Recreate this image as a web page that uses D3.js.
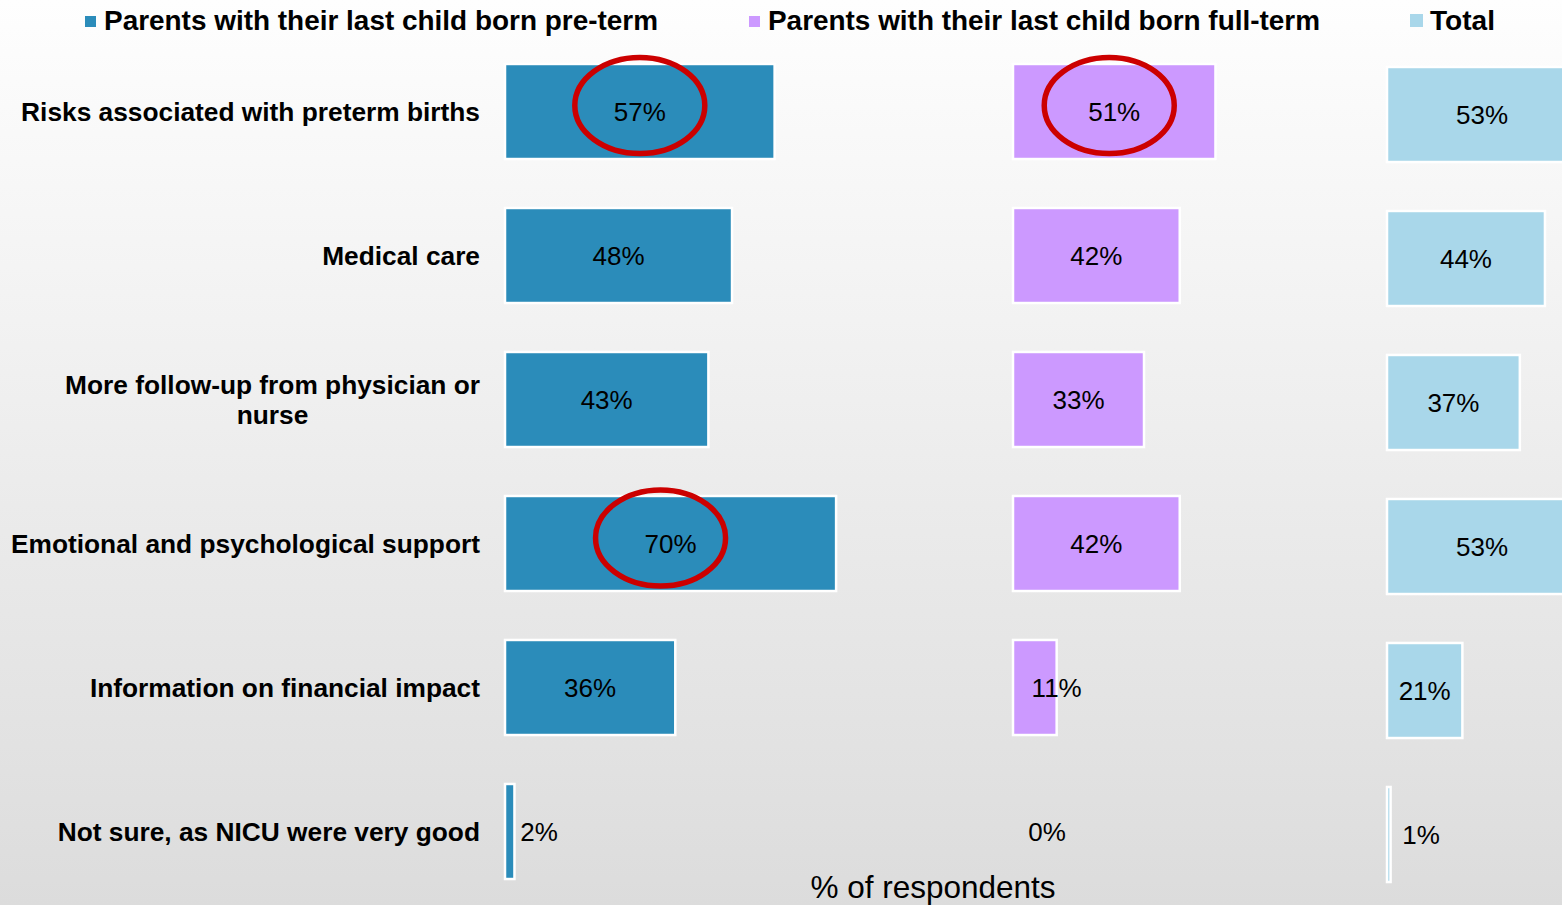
<!DOCTYPE html>
<html>
<head>
<meta charset="utf-8">
<script src="https://cdn.jsdelivr.net/npm/d3@7/dist/d3.min.js"></script>
<style>
html,body{margin:0;padding:0;overflow:hidden;}
svg{display:block;font-family:"Liberation Sans",Arial,sans-serif;}
</style>
</head>
<body>
<script>
const categories = [
  "Risks associated with preterm births",
  "Medical care",
  "More follow-up from physician or nurse",
  "Emotional and psychological support",
  "Information on financial impact",
  "Not sure, as NICU were very good"
];
const seriesNames = [
  "Parents with their last child born pre-term",
  "Parents with their last child born full-term",
  "Total"
];
const preTerm  = [57, 48, 43, 70, 36, 2];
const fullTerm = [51, 42, 33, 42, 11, 0];
const total    = [53, 44, 37, 53, 21, 1];
const highlighted = [
  {series: 0, category: 0},
  {series: 1, category: 0},
  {series: 0, category: 3}
];
const axisTitle = "% of respondents";

const W = 1562, H = 905;
const colors = ["#2b8cba", "#cc99ff", "#a9d7ea"];

const svg = d3.select("body").append("svg").attr("width", W).attr("height", H);
const defs = svg.append("defs");
const grad = defs.append("linearGradient").attr("id","bg").attr("x1",0).attr("y1",0).attr("x2",0).attr("y2",1);
grad.append("stop").attr("offset","0%").attr("stop-color","#fefefe");
grad.append("stop").attr("offset","100%").attr("stop-color","#dcdcdc");
svg.append("rect").attr("width",W).attr("height",H).attr("fill","url(#bg)");

const y = d3.scaleBand().domain(categories).range([39.5, 903.5]).paddingInner(0.34).paddingOuter(0.17);
const xScales = [
  d3.scaleLinear().domain([0,100]).range([505, 978]),
  d3.scaleLinear().domain([0,100]).range([1013, 1410]),
  d3.scaleLinear().domain([0,100]).range([1387, 1746])
];
const yOffsets = [0, 0, 3];
const series = [preTerm, fullTerm, total];

// category labels
const labelFs = 26.3;
const labelG = svg.append("g");
categories.forEach((c, i) => {
  const cy = y(c) + y.bandwidth()/2;
  const words = c.split(" ");
  const t = labelG.append("text").attr("font-size", labelFs).attr("font-weight", "bold").attr("fill", "#000");
  const maxW = 480;
  let lines = [], cur = [];
  const probe = labelG.append("text").attr("font-size",labelFs).attr("font-weight","bold");
  words.forEach(w => {
    cur.push(w);
    probe.text(cur.join(" "));
    if (probe.node().getComputedTextLength() > maxW && cur.length > 1) {
      cur.pop(); lines.push(cur.join(" ")); cur = [w];
    }
  });
  lines.push(cur.join(" "));
  const widths = lines.map(l => { probe.text(l); return probe.node().getComputedTextLength(); });
  probe.remove();
  const blockW = d3.max(widths);
  const lh = 30;
  const startY = cy - (lines.length - 1) * lh / 2 + 9;
  if (lines.length === 1) {
    t.attr("x", 480).attr("y", startY).attr("text-anchor", "end").text(lines[0]);
  } else {
    lines.forEach((l, k) => {
      t.append("tspan").attr("x", 480 - blockW/2).attr("y", startY + k*lh).attr("text-anchor","middle").text(l);
    });
  }
});

// bars
series.forEach((vals, s) => {
  const x = xScales[s];
  const g = svg.append("g");
  const data = vals.map((v,i)=>({v, c: categories[i]}));
  g.selectAll("rect").data(data.filter(d => d.v > 0))
    .enter().append("rect")
    .attr("x", x(0))
    .attr("y", d => y(d.c) + yOffsets[s])
    .attr("width", d => x(d.v) - x(0))
    .attr("height", y.bandwidth())
    .attr("fill", colors[s])
    .attr("stroke", "#ffffff")
    .attr("stroke-width", 2.5);
  g.selectAll("text").data(data)
    .enter().append("text")
    .attr("x", d => {
      const w = x(d.v) - x(0);
      return w < 52 ? Math.max(x(d.v), x(0) + 34) : (x(0) + x(d.v)) / 2;
    })
    .attr("y", d => y(d.c) + yOffsets[s] + y.bandwidth()/2 + 9.5)
    .attr("text-anchor","middle")
    .attr("font-size", 26)
    .attr("fill", "#000")
    .text(d => d.v + "%");
});

// highlight ellipses
const ellOffsets = [[0,-6],[-5,-6],[-10,-5.5]];
highlighted.forEach((h, k) => {
  const x = xScales[h.series];
  const v = series[h.series][h.category];
  const c = categories[h.category];
  svg.append("ellipse")
    .attr("cx", (x(0)+x(v))/2 + ellOffsets[k][0])
    .attr("cy", y(c) + y.bandwidth()/2 + ellOffsets[k][1])
    .attr("rx", 65).attr("ry", 48)
    .attr("fill","none").attr("stroke","#cc0000").attr("stroke-width",5.5);
});

// legend
const legendX = [[85, 104, 11], [749, 768, 11], [1410, 1430, 13]];
const legendW = [554, 552, 65];
seriesNames.forEach((n, s) => {
  const [mx, tx, ms] = legendX[s];
  svg.append("rect").attr("x", mx).attr("y", 27 - ms).attr("width", ms).attr("height", ms).attr("fill", colors[s]);
  svg.append("text").attr("x", tx).attr("y", 30).attr("font-size", 28).attr("font-weight","bold")
    .attr("textLength", legendW[s]).attr("lengthAdjust","spacingAndGlyphs").text(n);
});

// axis title
svg.append("text").attr("x", 933).attr("y", 898).attr("text-anchor","middle").attr("font-size", 31.5).attr("fill","#000").text(axisTitle);
</script>
</body>
</html>
